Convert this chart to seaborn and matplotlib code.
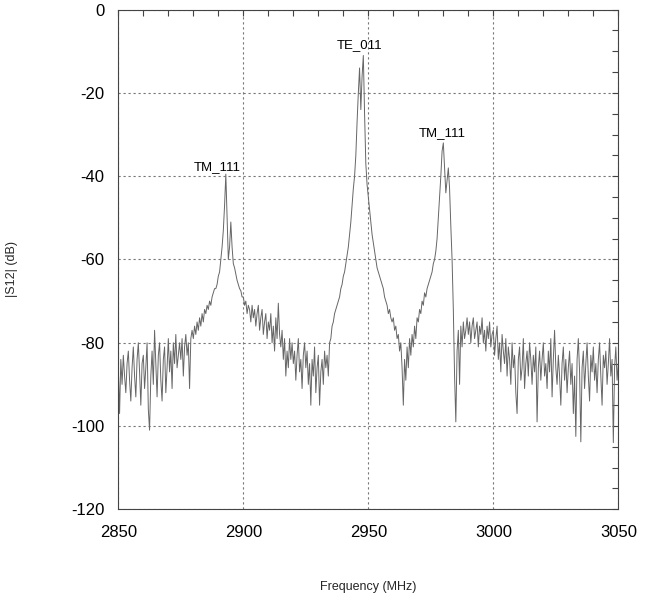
import matplotlib
matplotlib.use('Agg')
import matplotlib.pyplot as plt
from matplotlib.ticker import MultipleLocator
import numpy as np
import seaborn as sns

# |S12| trace, 0.5 MHz step from 2850 to 3050 MHz
f_start = 2850.0
f_step = 0.5
s12_db = [
    -86, -97, -84, -90, -83, -88, -92, -85, -82, -89,
    -94, -86, -81, -88, -93, -84, -80, -87, -95, -85,
    -83, -91, -86, -80, -96, -101, -88, -82, -90, -77,
    -85, -93, -83, -80, -89, -94, -84, -81, -92, -86,
    -79, -87, -82, -91, -80, -85, -78, -86, -83, -80,
    -84, -79, -88, -81, -78, -83, -80, -91, -79, -77,
    -79, -76, -78, -75, -77, -74, -76, -73, -75, -72,
    -73, -71, -72, -70, -71, -69, -68, -67, -67, -66,
    -64, -63, -60, -57, -53, -47, -39.5, -50, -60, -57,
    -51, -57, -61, -62, -63.5, -65, -66, -67, -67.5, -69,
    -69, -71, -70, -73, -71, -72, -75, -71, -74, -72,
    -76, -73, -71, -77, -74, -72, -78, -75, -73, -79,
    -75, -77, -73, -80, -76, -82, -74, -79, -70.5, -78,
    -81, -77, -84, -79, -88, -82, -86, -79, -84, -80,
    -85, -82, -89, -83, -79, -87, -84, -91, -83, -80,
    -86, -82, -90, -85, -95, -84, -88, -81, -92, -86,
    -83, -95, -87, -84, -90, -82, -86, -83, -88, -80,
    -79, -76, -75, -73, -72, -71, -70, -69, -67, -66,
    -64, -63, -61, -59, -57, -54, -51, -47, -43, -40,
    -35, -27, -20, -14, -24, -16, -11, -25, -37, -42,
    -45, -48, -51, -54, -56, -58, -60, -62, -63, -64,
    -65, -66, -67, -69, -70, -71, -73, -72, -74, -75,
    -74, -77, -76, -79, -78, -82, -80, -86, -95, -84,
    -89, -81, -86, -79, -83, -78, -81, -76, -79, -74,
    -75, -72, -73, -70, -71, -68, -69, -67, -66, -65,
    -64, -63, -61, -60, -58, -55, -50, -45, -40, -34,
    -32, -38, -44, -41, -38, -43, -52, -60, -72, -88,
    -99, -82, -77, -90, -76, -81, -75, -79, -77, -74,
    -78, -75, -80, -76, -74, -79, -77, -75, -81, -76,
    -78, -74, -80, -77, -82, -76, -79, -75, -81, -78,
    -77, -83, -79, -76, -84, -80, -87, -78, -82, -85,
    -79, -88, -81, -84, -90, -80, -86, -83, -92, -97,
    -84, -81, -89, -86, -79, -91, -85, -82, -88, -80,
    -84, -90, -83, -87, -81, -99, -86, -82, -89, -84,
    -80, -88, -85, -91, -82, -87, -79, -93, -84, -77,
    -86, -90, -83, -88, -95, -85, -81, -89, -84, -92,
    -86, -82, -90, -85, -97, -88, -102.5, -84, -79, -87,
    -103.8, -86, -82, -91, -85, -80, -88, -94, -83, -87,
    -81, -89, -85, -92, -84, -80, -88, -95, -83, -86,
    -82, -90, -85, -79, -88, -84, -104, -86, -81, -89,
    -85,
]
freq_mhz = f_start + f_step * np.arange(len(s12_db))

# mode labels and the window each peak sits in
mode_names = ['TM_111', 'TE_011', 'TM_111']
mode_windows = [(2885, 2900), (2940, 2955), (2975, 2985)]
label_offsets = [(-6, 1), (-3, 3), (-1, 3)]  # points

sns.set_theme(style='white')
plt.rcParams['font.family'] = ['Liberation Sans', 'DejaVu Sans']
plt.rcParams['axes.unicode_minus'] = False

fig = plt.figure(figsize=(6.53, 5.97), dpi=100)
ax = fig.add_axes([0.1812, 0.1469, 0.7657, 0.8369])

sns.lineplot(x=freq_mhz, y=s12_db, ax=ax, color='#666666', linewidth=0.7,
             estimator=None)

s12 = np.array(s12_db)
for name, (lo, hi), off in zip(mode_names, mode_windows, label_offsets):
    mask = (freq_mhz >= lo) & (freq_mhz <= hi)
    i = np.argmax(np.where(mask, s12, -np.inf))
    ax.annotate(name, (freq_mhz[i], s12[i]), xytext=off,
                textcoords='offset points', ha='center', va='bottom',
                fontsize=9.5, color='black')

ax.set_xlim(2850, 3050)
ax.set_ylim(-120, 0)
ax.xaxis.set_major_locator(MultipleLocator(50))
ax.xaxis.set_minor_locator(MultipleLocator(10))
ax.yaxis.set_major_locator(MultipleLocator(20))
ax.yaxis.set_minor_locator(MultipleLocator(5))

ax.grid(True, which='major', color='#777777', linestyle=(0, (2, 2.5)),
        linewidth=0.8)
for s in ax.spines.values():
    s.set_color('#444444')
    s.set_linewidth(0.8)

ax.tick_params(which='both', direction='in', top=True, right=True,
               colors='#444444', labelcolor='black', labelsize=12)
ax.tick_params(which='major', length=4, width=0.8)
ax.tick_params(which='minor', length=4, width=0.8)
ax.tick_params(axis='x', pad=11)
ax.tick_params(axis='y', pad=10)

ax.set_xlabel('Frequency (MHz)', fontsize=9)
ax.set_ylabel('|S12| (dB)', fontsize=9)
ax.xaxis.set_label_coords(0.5, -0.143)
ax.yaxis.set_label_coords(-0.2, 0.48)

fig.savefig('out.png', dpi=100)
